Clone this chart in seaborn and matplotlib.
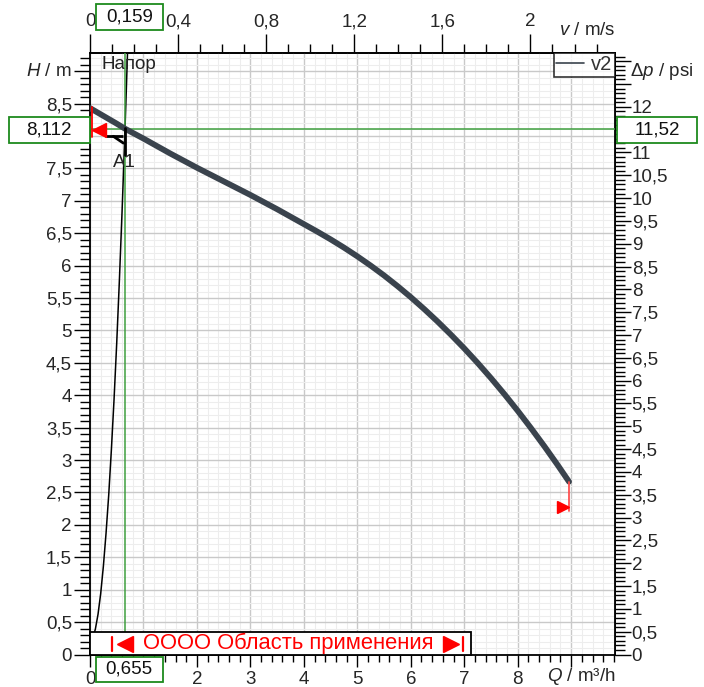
import matplotlib
matplotlib.use("Agg")
import numpy as np
import pandas as pd
import matplotlib.pyplot as plt
import seaborn as sns
from matplotlib.ticker import MultipleLocator, FuncFormatter
from matplotlib.patches import Rectangle

# ---------------- data ----------------
pump_q = [0.0, 0.25, 0.5, 0.655, 0.75, 1.0, 1.25, 1.5, 1.75, 2.0, 2.25, 2.5, 2.75,
          3.0, 3.25, 3.5, 3.75, 4.0, 4.25, 4.5, 4.75, 5.0, 5.25, 5.5, 5.75,
          6.0, 6.25, 6.5, 6.75, 7.0, 7.25, 7.5, 7.75, 8.0, 8.25, 8.5, 8.75, 8.96]
pump_h = [8.43, 8.31, 8.19, 8.112, 8.07, 7.96, 7.845, 7.73, 7.62, 7.51, 7.405, 7.30, 7.195,
          7.09, 6.98, 6.87, 6.755, 6.64, 6.525, 6.405, 6.278, 6.143, 6.0, 5.848, 5.685,
          5.513, 5.33, 5.138, 4.935, 4.723, 4.499, 4.264, 4.018, 3.76, 3.491, 3.211, 2.92, 2.666]
sys_q = [0.0, 0.05, 0.1, 0.15, 0.2, 0.25, 0.3, 0.35, 0.4, 0.45, 0.5, 0.55, 0.6,
         0.62, 0.655, 0.68, 0.7, 0.72]
sys_h = [0.21, 0.25, 0.39, 0.62, 0.94, 1.36, 1.87, 2.46, 3.16, 3.94, 4.81, 5.78, 6.84,
         7.29, 8.112, 8.73, 9.24, 9.76]

op_q = 0.655      # m3/h
op_h = 8.112      # m
op_v = 0.159      # m/s
op_psi = 11.52    # psi
series_label = "v2"
curve_label = "Напор"
point_label = "A1"
range_label = "OOOO Область применения"
range_q = [0.41, 6.97]
end_marker_h = 2.21

kv = op_v / op_q      # m/s per m3/h
kp = op_psi / op_h    # psi per m

# ---------------- style ----------------
sns.set_theme(style="white")
plt.rcParams["font.family"] = ["Liberation Sans", "DejaVu Sans"]
plt.rcParams["mathtext.fontset"] = "custom"
plt.rcParams["mathtext.it"] = "Liberation Sans:italic"
plt.rcParams["mathtext.rm"] = "Liberation Sans"

W, H = 704, 687
fig = plt.figure(figsize=(7.04, 6.87), dpi=100)
ax = fig.add_axes([90 / W, 1 - 654.5 / H, (615 - 90) / W, (654.5 - 53) / H])

GREEN_LINE = "#3f9f3f"
GREEN_BOX = "#1d8a1d"
CURVE = "#3a434d"
FS = 13.5


def fmt(v, limit=None, hide=()):
    v = round(v, 3)
    if v < -1e-6:
        return ""
    if limit is not None and v > limit + 1e-6:
        return ""
    if any(abs(v - h) < 1e-6 for h in hide):
        return ""
    return f"{v:g}".replace(".", ",")


df_pump = pd.DataFrame({"Q": pump_q, "H": pump_h})
df_sys = pd.DataFrame({"Q": sys_q, "H": sys_h})

sns.lineplot(data=df_sys, x="Q", y="H", ax=ax, color="black", lw=1.1,
             errorbar=None, zorder=3)
sns.lineplot(data=df_pump, x="Q", y="H", ax=ax, color=CURVE, lw=4.2,
             errorbar=None, zorder=4, label=series_label)

ax.set_xlim(0, 9.82)
ax.set_ylim(0, 9.28)
ax.set_xlabel("")
ax.set_ylabel("")

# grid
ax.xaxis.set_major_locator(MultipleLocator(1))
ax.xaxis.set_minor_locator(MultipleLocator(0.2))
ax.yaxis.set_major_locator(MultipleLocator(0.5))
ax.yaxis.set_minor_locator(MultipleLocator(0.1))
ax.grid(which="major", color="#c9c9c9", lw=1.0)
ax.grid(which="minor", color="#ededed", lw=0.8)
ax.set_axisbelow(True)

# labels hidden behind the value boxes in the reference are left empty
ax.xaxis.set_major_formatter(FuncFormatter(lambda v, p: fmt(v, 8.5, hide=(1.0,))))
ax.yaxis.set_major_formatter(FuncFormatter(lambda v, p: fmt(v, 8.5, hide=(8.0,))))

ax.tick_params(axis="y", which="major", length=11.5, width=1, pad=1.5,
               labelsize=FS, color="black", direction="out", left=True)
ax.tick_params(axis="y", which="minor", length=7, width=1, color="black",
               direction="out", left=True)
ax.tick_params(axis="x", which="major", length=8.6, width=1, pad=3.5,
               labelsize=FS, color="black", direction="out", bottom=True)
ax.tick_params(axis="x", which="minor", length=5, width=1, color="black",
               direction="out", bottom=True)

for s in ax.spines.values():
    s.set_color("black")
    s.set_linewidth(1.3)

# secondary axes
secx = ax.secondary_xaxis("top", functions=(lambda q: q * kv, lambda v: v / kv))
secx.xaxis.set_major_locator(MultipleLocator(0.4))
secx.xaxis.set_minor_locator(MultipleLocator(0.1))
secx.xaxis.set_major_formatter(FuncFormatter(lambda v, p: fmt(v, 2.1)))
secx.tick_params(which="major", length=14, width=1, pad=2.5, labelsize=FS,
                 color="black", direction="out")
secx.tick_params(which="minor", length=6.5, width=1, color="black", direction="out")
secx.spines["top"].set_linewidth(1.3)

secy = ax.secondary_yaxis("right", functions=(lambda h: h * kp, lambda p: p / kp))
secy.yaxis.set_major_locator(MultipleLocator(0.5))
secy.yaxis.set_minor_locator(MultipleLocator(0.1))
secy.yaxis.set_major_formatter(FuncFormatter(lambda v, p: fmt(v, 12, hide=(11.5,))))
secy.tick_params(which="major", length=11.5, width=1, pad=0.5, labelsize=FS,
                 color="black", direction="out")
secy.tick_params(which="minor", length=7, width=1, color="black", direction="out")
secy.spines["right"].set_linewidth(1.3)

# axis titles
ax.annotate("$H$ / m", xy=(0, 9.0), xycoords=("axes fraction", "data"),
            xytext=(-13, 0), textcoords="offset points", ha="right", va="center",
            fontsize=FS)
ax.annotate("Δ$p$ / psi", xy=(1, 9.0), xycoords=("axes fraction", "data"),
            xytext=(11, 0), textcoords="offset points", ha="left", va="center",
            fontsize=FS)
ax.annotate("$Q$ / m³/h", xy=(1, 0), xycoords="axes fraction",
            xytext=(0.5, -16), textcoords="offset points", ha="right", va="center",
            fontsize=FS)
ax.annotate("$v$ / m/s", xy=(1, 1), xycoords="axes fraction",
            xytext=(0.5, 16), textcoords="offset points", ha="right", va="center",
            fontsize=FS)

# legend
leg = ax.legend(loc="upper right", borderaxespad=0, frameon=True, fancybox=False,
                edgecolor="black", handlelength=1.4, handletextpad=0.35,
                borderpad=0.12, fontsize=14.5)
leg.get_frame().set_linewidth(1.2)
leg.set_zorder(20)
for ln in leg.get_lines():
    ln.set_linewidth(1.2)
for t in leg.get_texts():
    t.set_color("#333333")

# operating point lines
ax.axvline(op_q, color=GREEN_LINE, lw=1.1, zorder=3.5)
ax.axhline(op_h, color=GREEN_LINE, lw=1.1, zorder=3.5)

# labels inside
ax.text(0.22, 9.11, curve_label, ha="left", va="center", fontsize=13.5, color="#222222")
ax.text(0.64, 7.59, point_label, ha="center", va="center", fontsize=13.5, color="#222222")

# A1 marker
ax.plot([0.281, 0.624], [7.995, 7.995], color="black", lw=2, zorder=5, solid_capstyle="butt")
ax.plot([0.436, 0.624], [7.995, 7.89], color="black", lw=2, zorder=5)
ax.plot([0.646, 0.646], [8.13, 7.71], color="black", lw=2, zorder=5)

# red markers
ax.plot([0.032, 0.032], [8.44, 7.98], color="red", lw=1.3, zorder=6)
ax.plot([0.16], [8.09], marker="<", color="red", markersize=9.5, zorder=6, ls="none")
ax.plot([pump_q[-1], pump_q[-1]], [pump_h[-1], end_marker_h], color="#ff5050", lw=1.3, zorder=6)
ax.plot([8.84], [2.28], marker=">", color="red", markersize=9, zorder=6, ls="none")

# application range box
ax.add_patch(Rectangle((0, 0), 7.13, 0.345, facecolor="white", edgecolor="black",
                       lw=1.3, zorder=7, clip_on=False))
for rq in range_q:
    ax.plot([rq, rq], [0.05, 0.27], color="red", lw=1.6, zorder=8)
ax.plot([0.664], [0.165], marker="<", color="red", markersize=11, zorder=8, ls="none")
ax.plot([6.76], [0.165], marker=">", color="red", markersize=11, zorder=8, ls="none")
ax.text(3.71, 0.165, range_label, ha="center", va="center", fontsize=15.8,
        color="red", zorder=8)


# value boxes (pixel positions in the 704x687 image)
def px_box(x0, y0, x1, y1, text):
    fig.patches.append(Rectangle((x0 / W, 1 - y1 / H), (x1 - x0) / W, (y1 - y0) / H,
                                 transform=fig.transFigure, facecolor="white",
                                 edgecolor=GREEN_BOX, lw=1.3, zorder=10))
    fig.text((x0 + x1) / 2 / W, 1 - (y0 + y1) / 2 / H, text, ha="center",
             va="center", fontsize=FS, zorder=11, color="#111111")


px_box(95.5, 4.5, 163, 30, fmt(op_v))
px_box(8.5, 117, 90, 142.5, fmt(op_h))
px_box(617, 117, 697, 142.5, fmt(op_psi))
px_box(95.5, 656.5, 163, 682, fmt(op_q))

fig.savefig("out.png", dpi=100)
